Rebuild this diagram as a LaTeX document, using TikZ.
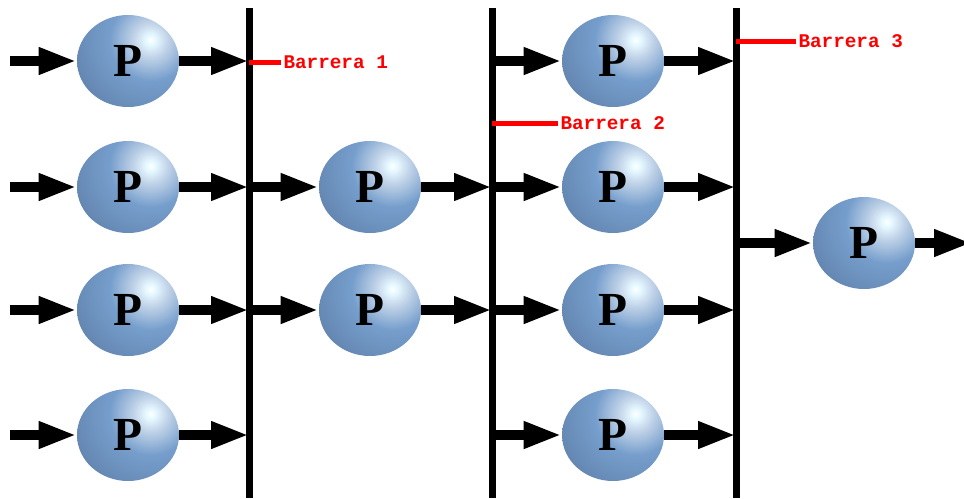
\documentclass[tikz,border=0pt]{standalone}
\usepackage{fontspec}
\newfontfamily\etiq{Liberation Mono}
\newfontfamily\letra{Liberation Serif}
\usetikzlibrary{arrows.meta,shapes.geometric}

\definecolor{bolaclaro}{RGB}{230,248,255}
\definecolor{bolamedio}{RGB}{118,158,204}
\definecolor{bolaoscuro}{RGB}{36,52,82}
% sombreado centrado en el brillo; se aplica a un circulo grande recortado
\pgfdeclareradialshading{bolaP}{\pgfpointorigin}{%
  color(0bp)=(white);
  color(1.5bp)=(bolaclaro);
  color(5bp)=(bolamedio!45!white);
  color(12bp)=(bolamedio);
  color(28bp)=(bolamedio!70!bolaoscuro);
  color(45bp)=(bolaoscuro);
  color(50bp)=(bolaoscuro)}

\begin{document}
\begin{tikzpicture}[x=0.02cm,y=-0.02cm,
  bola/.style={ellipse,minimum width=2.04cm,minimum height=1.84cm,inner sep=0pt,
    path picture={\shade[shading=bolaP] (path picture bounding box.center)
      ++(0.45cm,0.42cm) circle (1.7cm);},
    font=\letra\bfseries\fontsize{27}{27}\selectfont},
  flecha/.style={line width=0.2cm,-{Triangle[length=0.76cm,width=0.5cm]}},
  barrera/.style={line width=0.14cm},
  marca/.style={red,line width=0.1cm},
  etiqueta/.style={red,anchor=west,inner sep=0pt,font=\etiq\bfseries\fontsize{11}{13}\selectfont}]
  \useasboundingbox (0,0) rectangle (964,498);

  % barreras
  \coordinate (B1a) at (249,8);
  \coordinate (B1b) at (249,498);
  \coordinate (B2a) at (492,8);
  \coordinate (B2b) at (492,498);
  \coordinate (B3a) at (736,8);
  \coordinate (B3b) at (736,498);

  % entradas y salida
  \coordinate (e1) at (10,61);
  \coordinate (e2) at (10,187);
  \coordinate (e3) at (10,310);
  \coordinate (e4) at (10,435);
  \coordinate (s) at (972,243);

  % procesos
  \node[bola] (p11) at (128,61) {P};
  \node[bola] (p12) at (128,187) {P};
  \node[bola] (p13) at (128,310) {P};
  \node[bola] (p14) at (128,435) {P};
  \node[bola] (p21) at (370,187) {P};
  \node[bola] (p22) at (370,310) {P};
  \node[bola] (p31) at (613,61) {P};
  \node[bola] (p32) at (613,187) {P};
  \node[bola] (p33) at (613,310) {P};
  \node[bola] (p34) at (613,435) {P};
  \node[bola] (p4) at (864,243) {P};

  % flechas
  \draw[flecha] (e1) -- (p11);
  \draw[flecha] (e2) -- (p12);
  \draw[flecha] (e3) -- (p13);
  \draw[flecha] (e4) -- (p14);
  \draw[flecha] (p11) -- (p11 -| B1a);
  \draw[flecha] (p12) -- (p12 -| B1a);
  \draw[flecha] (p13) -- (p13 -| B1a);
  \draw[flecha] (p14) -- (p14 -| B1a);
  \draw[flecha] (p21 -| B1a) -- (p21);
  \draw[flecha] (p22 -| B1a) -- (p22);
  \draw[flecha] (p21) -- (p21 -| B2a);
  \draw[flecha] (p22) -- (p22 -| B2a);
  \draw[flecha] (p31 -| B2a) -- (p31);
  \draw[flecha] (p32 -| B2a) -- (p32);
  \draw[flecha] (p33 -| B2a) -- (p33);
  \draw[flecha] (p34 -| B2a) -- (p34);
  \draw[flecha] (p31) -- (p31 -| B3a);
  \draw[flecha] (p32) -- (p32 -| B3a);
  \draw[flecha] (p33) -- (p33 -| B3a);
  \draw[flecha] (p34) -- (p34 -| B3a);
  \draw[flecha] (p4 -| B3a) -- (p4);
  \draw[flecha] (p4) -- (s);

  \draw[barrera] (B1a) -- (B1b);
  \draw[barrera] (B2a) -- (B2b);
  \draw[barrera] (B3a) -- (B3b);

  % etiquetas
  \draw[marca] (249,62) -- (281,62) node[etiqueta] (t1) {Barrera 1};
  \draw[marca] (492,123) -- (558,123) node[etiqueta] (t2) {Barrera 2};
  \draw[marca] (736,41) -- (796,41) node[etiqueta] (t3) {Barrera 3};
\end{tikzpicture}
\end{document}
